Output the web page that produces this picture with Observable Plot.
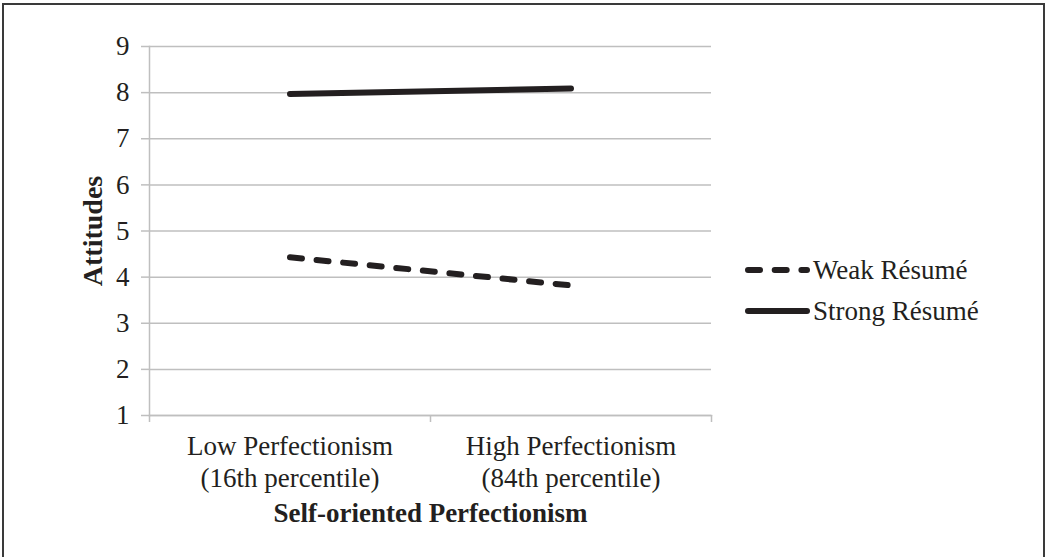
<!DOCTYPE html>
<html>
<head>
<meta charset="utf-8">
<script src="https://cdn.jsdelivr.net/npm/d3@7"></script>
<script src="https://cdn.jsdelivr.net/npm/@observablehq/plot@0.6"></script>
<style>
  html, body { margin: 0; padding: 0; background: #fff; }
  #wrap { position: relative; width: 1048px; height: 557px; overflow: hidden; font-family: "Liberation Serif", "DejaVu Serif", serif; }
  #border { position: absolute; left: 2px; top: 3px; width: 1043px; height: 560px; border: 2px solid #3a3a3a; box-sizing: border-box; pointer-events: none; }
  #legend { position: absolute; left: 742px; top: 250px; }
</style>
</head>
<body>
<div id="wrap"><div id="border"></div></div>
<script>
const categories = ["Low Perfectionism\n(16th percentile)", "High Perfectionism\n(84th percentile)"];
const seriesNames = ["Weak Résumé", "Strong Résumé"];
const weakValues = [4.43, 3.82];
const strongValues = [7.97, 8.09];
const yTicks = [1, 2, 3, 4, 5, 6, 7, 8, 9];
const xTitle = "Self-oriented Perfectionism";
const yTitle = "Attitudes";

const ink = "#231f20";
const grid = "#bfbfbf";
const font = "Liberation Serif";

const rows = [];
[weakValues, strongValues].forEach((vals, s) => {
  vals.forEach((v, i) => rows.push({series: seriesNames[s], cat: i + 0.5, value: v}));
});

const chart = Plot.plot({
  width: 1048,
  height: 557,
  marginLeft: 149,
  marginRight: 337,
  marginTop: 46,
  marginBottom: 142,
  style: {fontFamily: font, fontSize: "27px", color: ink, background: "transparent"},
  x: {domain: [0, categories.length], axis: null},
  y: {domain: [1, 9], axis: null},
  marks: [
    Plot.gridY(yTicks, {stroke: grid, strokeOpacity: 1, strokeWidth: 1.5}),
    Plot.frame({anchor: "left", stroke: grid, strokeWidth: 1.5}),
    Plot.frame({anchor: "bottom", stroke: grid, strokeWidth: 1.5}),
    Plot.axisY(yTicks, {tickSize: 8, tickPadding: 12, stroke: grid, strokeWidth: 1.5, fontSize: 27, fill: ink, label: null}),
    Plot.axisX(d3.range(categories.length + 1), {tickSize: 7, stroke: grid, strokeWidth: 1.5, tickFormat: () => "", label: null}),
    Plot.axisX(categories.map((c, i) => i + 0.5), {tickSize: 0, tickPadding: 16, tickFormat: (d) => categories[Math.floor(d)], lineHeight: 1.2, fontSize: 27, fill: ink, label: null}),
    Plot.text([xTitle], {frameAnchor: "bottom", textAnchor: "middle", dy: 106, lineAnchor: "bottom", fontWeight: "bold", fontSize: 27, fill: ink}),
    Plot.text([yTitle], {frameAnchor: "left", textAnchor: "middle", dx: -56, rotate: -90, fontWeight: "bold", fontSize: 28, fill: ink}),
    Plot.line(rows.filter(d => d.series === seriesNames[0]), {x: "cat", y: "value", stroke: ink, strokeWidth: 6, strokeLinecap: "round", strokeDasharray: "12 14.7"}),
    Plot.line(rows.filter(d => d.series === seriesNames[1]), {x: "cat", y: "value", stroke: ink, strokeWidth: 6, strokeLinecap: "round"})
  ]
});
const wrap = document.getElementById("wrap");
wrap.insertBefore(chart, wrap.firstChild);

// legend
const lg = d3.select(wrap).append("svg").attr("id", "legend").attr("width", 300).attr("height", 90)
  .style("font-family", font);
const items = [{name: seriesNames[0], dash: "12 14.7"}, {name: seriesNames[1], dash: null}];
items.forEach((it, i) => {
  const y = 20 + i * 41;
  lg.append("line").attr("x1", 6).attr("x2", 65).attr("y1", y).attr("y2", y)
    .attr("stroke", ink).attr("stroke-width", 6).attr("stroke-linecap", "round")
    .attr("stroke-dasharray", it.dash);
  lg.append("text").attr("x", 71).attr("y", y + 9).attr("font-size", 27).attr("fill", ink).text(it.name);
});
</script>
</body>
</html>
